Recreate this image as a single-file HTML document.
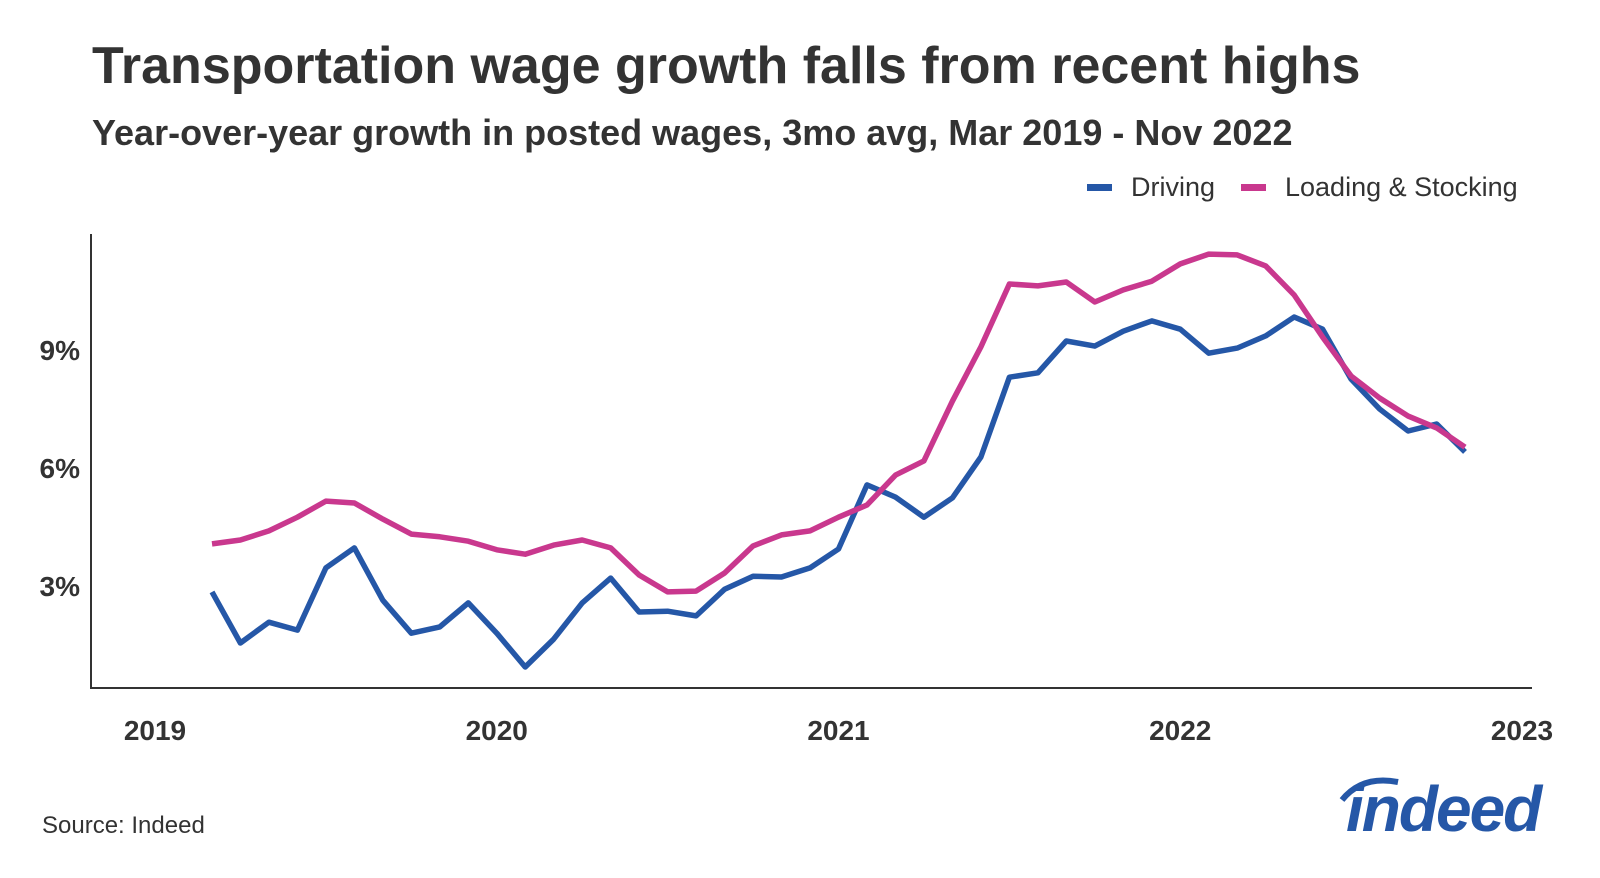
<!DOCTYPE html>
<html><head><meta charset="utf-8"><style>
body{margin:0;background:#fff;width:1600px;height:873px;overflow:hidden;font-family:"Liberation Sans",sans-serif;color:#333}
</style></head><body>
<svg width="1600" height="873" xmlns="http://www.w3.org/2000/svg">
<text x="92" y="83" font-size="52" font-weight="bold" fill="#333">Transportation wage growth falls from recent highs</text>
<text x="92" y="145" font-size="36" font-weight="bold" fill="#333">Year-over-year growth in posted wages, 3mo avg, Mar 2019 - Nov 2022</text>
<g>
<g><rect x="1087" y="184" width="25" height="7" fill="#2557a7"/><text x="1131" y="196" font-size="27" fill="#333">Driving</text></g>
<g><rect x="1241" y="184" width="25" height="7" fill="#c9388e"/><text x="1285" y="196" font-size="27" fill="#333">Loading &amp; Stocking</text></g>
</g>
<line x1="91" y1="234" x2="91" y2="689" stroke="#333" stroke-width="2"/>
<line x1="90" y1="688" x2="1532" y2="688" stroke="#333" stroke-width="2"/>
<g id="yt"></g><g id="xt"></g><g id="series"></g>
<text x="42" y="833" font-size="24" fill="#333">Source: Indeed</text>
<g>
<path d="M1342 800 Q1362 775 1398 782" stroke="#2557a7" stroke-width="6" fill="none"/>
<text x="1346" y="831" font-size="64" font-weight="bold" font-style="italic" fill="#2557a7" letter-spacing="-2">indeed</text>
</g>
</svg>
<script>
const yTicks=[3,6,9];
const yLabels=["3%","6%","9%"];
const xYears=[2019,2020,2021,2022,2023];
const driving=[2.85,1.55,2.08,1.88,3.46,3.97,2.64,1.80,1.96,2.57,1.80,0.94,1.65,2.57,3.20,2.34,2.36,2.24,2.92,3.25,3.23,3.46,3.94,5.57,5.26,4.75,5.24,6.28,8.31,8.42,9.23,9.10,9.48,9.74,9.53,8.92,9.05,9.36,9.84,9.53,8.26,7.50,6.94,7.12,6.41];
const loading=[4.07,4.17,4.40,4.75,5.16,5.11,4.70,4.32,4.25,4.14,3.92,3.81,4.04,4.17,3.97,3.28,2.85,2.87,3.33,4.02,4.30,4.40,4.75,5.06,5.82,6.18,7.70,9.08,10.68,10.63,10.73,10.22,10.53,10.75,11.19,11.44,11.42,11.14,10.40,9.33,8.34,7.78,7.32,7.02,6.53];
const startMonth=2;
const NS="http://www.w3.org/2000/svg";
function xs(m){return 155+m*(1367/48);}
function ys(v){return 704-v*39.33;}
const yt=document.getElementById('yt');
yTicks.forEach((v,i)=>{const t=document.createElementNS(NS,'text');
t.setAttribute('x',80);t.setAttribute('y',ys(v)+10);t.setAttribute('text-anchor','end');
t.setAttribute('font-size','28');t.setAttribute('font-weight','bold');t.setAttribute('fill','#333');
t.textContent=yLabels[i];


yt.appendChild(t);});
const xt=document.getElementById('xt');
xYears.forEach((y,i)=>{const t=document.createElementNS(NS,'text');
t.setAttribute('x',xs((y-2019)*12));t.setAttribute('y',740);t.setAttribute('text-anchor','middle');
t.setAttribute('font-size','28');t.setAttribute('font-weight','bold');t.setAttribute('fill','#333');
t.textContent=y;


xt.appendChild(t);});
const sg=document.getElementById('series');
function line(arr,color,name){const p=document.createElementNS(NS,'polyline');
p.setAttribute('points',arr.map((v,i)=>xs(startMonth+i).toFixed(1)+','+ys(v).toFixed(1)).join(' '));
p.setAttribute('fill','none');p.setAttribute('stroke',color);p.setAttribute('stroke-width','5.5');p.setAttribute('stroke-linejoin','round');


sg.appendChild(p);}
line(driving,'#2557a7','driving-line');
line(loading,'#c9388e','loading-stocking-line');
</script>
</body></html>
